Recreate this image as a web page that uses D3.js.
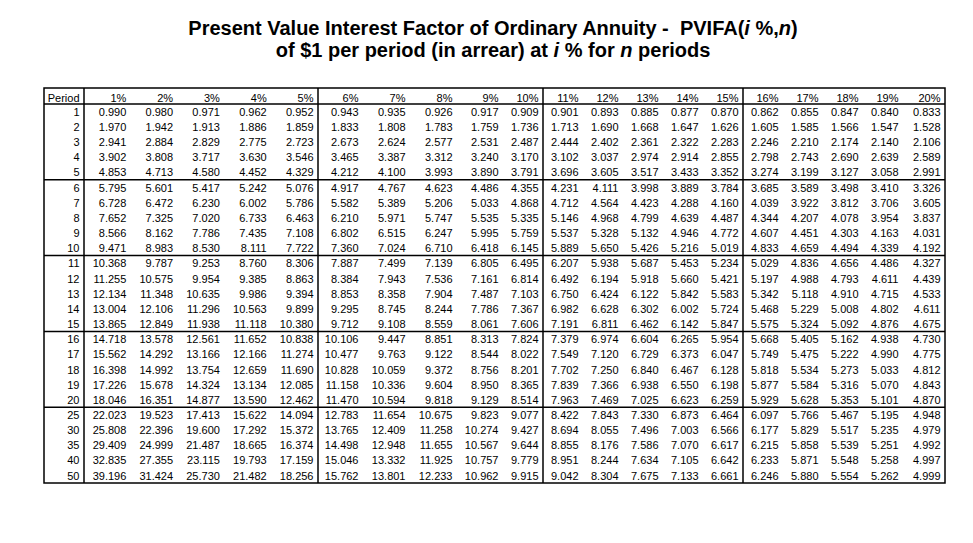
<!DOCTYPE html>
<html><head><meta charset="utf-8">
<script src="https://cdn.jsdelivr.net/npm/d3@7"></script>
<style>
html,body{margin:0;padding:0;background:#fff;}
svg{display:block;font-family:"Liberation Sans",Arial,sans-serif;}
</style></head>
<body><svg id="chart" width="973" height="543"></svg>
<script>
// ---- data ----
const periods = [1,2,3,4,5,6,7,8,9,10,11,12,13,14,15,16,17,18,19,20,25,30,35,40,50];
const rates = ["1%","2%","3%","4%","5%","6%","7%","8%","9%","10%","11%","12%","13%","14%","15%","16%","17%","18%","19%","20%"];
const periodHeader = "Period";
const factors = [
[0.990,0.980,0.971,0.962,0.952,0.943,0.935,0.926,0.917,0.909,0.901,0.893,0.885,0.877,0.870,0.862,0.855,0.847,0.840,0.833],
[1.970,1.942,1.913,1.886,1.859,1.833,1.808,1.783,1.759,1.736,1.713,1.690,1.668,1.647,1.626,1.605,1.585,1.566,1.547,1.528],
[2.941,2.884,2.829,2.775,2.723,2.673,2.624,2.577,2.531,2.487,2.444,2.402,2.361,2.322,2.283,2.246,2.210,2.174,2.140,2.106],
[3.902,3.808,3.717,3.630,3.546,3.465,3.387,3.312,3.240,3.170,3.102,3.037,2.974,2.914,2.855,2.798,2.743,2.690,2.639,2.589],
[4.853,4.713,4.580,4.452,4.329,4.212,4.100,3.993,3.890,3.791,3.696,3.605,3.517,3.433,3.352,3.274,3.199,3.127,3.058,2.991],
[5.795,5.601,5.417,5.242,5.076,4.917,4.767,4.623,4.486,4.355,4.231,4.111,3.998,3.889,3.784,3.685,3.589,3.498,3.410,3.326],
[6.728,6.472,6.230,6.002,5.786,5.582,5.389,5.206,5.033,4.868,4.712,4.564,4.423,4.288,4.160,4.039,3.922,3.812,3.706,3.605],
[7.652,7.325,7.020,6.733,6.463,6.210,5.971,5.747,5.535,5.335,5.146,4.968,4.799,4.639,4.487,4.344,4.207,4.078,3.954,3.837],
[8.566,8.162,7.786,7.435,7.108,6.802,6.515,6.247,5.995,5.759,5.537,5.328,5.132,4.946,4.772,4.607,4.451,4.303,4.163,4.031],
[9.471,8.983,8.530,8.111,7.722,7.360,7.024,6.710,6.418,6.145,5.889,5.650,5.426,5.216,5.019,4.833,4.659,4.494,4.339,4.192],
[10.368,9.787,9.253,8.760,8.306,7.887,7.499,7.139,6.805,6.495,6.207,5.938,5.687,5.453,5.234,5.029,4.836,4.656,4.486,4.327],
[11.255,10.575,9.954,9.385,8.863,8.384,7.943,7.536,7.161,6.814,6.492,6.194,5.918,5.660,5.421,5.197,4.988,4.793,4.611,4.439],
[12.134,11.348,10.635,9.986,9.394,8.853,8.358,7.904,7.487,7.103,6.750,6.424,6.122,5.842,5.583,5.342,5.118,4.910,4.715,4.533],
[13.004,12.106,11.296,10.563,9.899,9.295,8.745,8.244,7.786,7.367,6.982,6.628,6.302,6.002,5.724,5.468,5.229,5.008,4.802,4.611],
[13.865,12.849,11.938,11.118,10.380,9.712,9.108,8.559,8.061,7.606,7.191,6.811,6.462,6.142,5.847,5.575,5.324,5.092,4.876,4.675],
[14.718,13.578,12.561,11.652,10.838,10.106,9.447,8.851,8.313,7.824,7.379,6.974,6.604,6.265,5.954,5.668,5.405,5.162,4.938,4.730],
[15.562,14.292,13.166,12.166,11.274,10.477,9.763,9.122,8.544,8.022,7.549,7.120,6.729,6.373,6.047,5.749,5.475,5.222,4.990,4.775],
[16.398,14.992,13.754,12.659,11.690,10.828,10.059,9.372,8.756,8.201,7.702,7.250,6.840,6.467,6.128,5.818,5.534,5.273,5.033,4.812],
[17.226,15.678,14.324,13.134,12.085,11.158,10.336,9.604,8.950,8.365,7.839,7.366,6.938,6.550,6.198,5.877,5.584,5.316,5.070,4.843],
[18.046,16.351,14.877,13.590,12.462,11.470,10.594,9.818,9.129,8.514,7.963,7.469,7.025,6.623,6.259,5.929,5.628,5.353,5.101,4.870],
[22.023,19.523,17.413,15.622,14.094,12.783,11.654,10.675,9.823,9.077,8.422,7.843,7.330,6.873,6.464,6.097,5.766,5.467,5.195,4.948],
[25.808,22.396,19.600,17.292,15.372,13.765,12.409,11.258,10.274,9.427,8.694,8.055,7.496,7.003,6.566,6.177,5.829,5.517,5.235,4.979],
[29.409,24.999,21.487,18.665,16.374,14.498,12.948,11.655,10.567,9.644,8.855,8.176,7.586,7.070,6.617,6.215,5.858,5.539,5.251,4.992],
[32.835,27.355,23.115,19.793,17.159,15.046,13.332,11.925,10.757,9.779,8.951,8.244,7.634,7.105,6.642,6.233,5.871,5.548,5.258,4.997],
[39.196,31.424,25.730,21.482,18.256,15.762,13.801,12.233,10.962,9.915,9.042,8.304,7.675,7.133,6.661,6.246,5.880,5.554,5.262,4.999]
];

(function () {
// ---- layout ----
const svg = d3.select("#chart");
const tLeft = 44, tRight = 945, tTop = 88, headerBottom = 104, tBottom = 483;
const colWidths = [40, 46.8,46.8,46.8,46.8,46.8, 45,47,47,46,40, 40,40,40,40,40, 40,40,40,40,42];
const edges = [tLeft];
colWidths.forEach(w => edges.push(edges[edges.length-1] + w));
const colKeys = [periodHeader].concat(rates);
const xRight = k => edges[colKeys.indexOf(k) + 1] - 4.5;

const y = d3.scaleBand().domain(periods).range([headerBottom, tBottom]).padding(0);
const fmt = d3.format(".3f");
const fontSize = 11;
const titleSize = 20;

// title
const t1 = svg.append("text").attr("text-anchor","middle").attr("font-weight","bold").attr("font-size",titleSize).attr("fill","#000").attr("x",493).attr("y",35);
t1.append("tspan").text("Present Value Interest Factor of Ordinary Annuity -  PVIFA(");
t1.append("tspan").attr("font-style","italic").text("i");
t1.append("tspan").text(" %,");
t1.append("tspan").attr("font-style","italic").text("n");
t1.append("tspan").text(")");
t1.style("white-space","pre");
const t2 = svg.append("text").attr("text-anchor","middle").attr("font-weight","bold").attr("font-size",titleSize).attr("x",493).attr("y",57);
t2.append("tspan").text("of $1 per period (in arrear) at ");
t2.append("tspan").attr("font-style","italic").text("i");
t2.append("tspan").text(" % for ");
t2.append("tspan").attr("font-style","italic").text("n");
t2.append("tspan").text(" periods");
t2.style("white-space","pre");

// header
svg.append("g").selectAll("text").data(colKeys).join("text")
  .attr("x", d => xRight(d)).attr("y", headerBottom - 2.2)
  .attr("text-anchor","end").attr("font-size",fontSize).attr("fill","#000")
  .text(d => d);

// body rows
const rows = svg.append("g").selectAll("g").data(periods).join("g")
  .attr("transform", d => `translate(0,${y(d) + y.bandwidth()/2 + 4.2})`);
rows.append("text").attr("x", xRight(periodHeader)).attr("text-anchor","end")
  .attr("font-size",fontSize).text(d => d);
rows.selectAll("text.v").data((d,i) => factors[i].map((v,j) => ({v, r: rates[j]}))).join("text")
  .attr("class","v").attr("x", d => xRight(d.r)).attr("text-anchor","end")
  .attr("font-size",fontSize).attr("fill","#000").text(d => fmt(d.v));

// grid lines
const g = svg.append("g").attr("stroke","#000").attr("stroke-width",1.5).attr("fill","none");
g.append("rect").attr("x",tLeft).attr("y",tTop).attr("width",tRight-tLeft).attr("height",tBottom-tTop);
g.append("line").attr("x1",tLeft).attr("x2",tRight).attr("y1",headerBottom).attr("y2",headerBottom);
[5,10,15,20].forEach(p => {
  const yy = y(p) + y.bandwidth();
  g.append("line").attr("x1",tLeft).attr("x2",tRight).attr("y1",yy).attr("y2",yy);
});
["Period","5%","10%","15%"].forEach(k => {
  const xx = edges[colKeys.indexOf(k)+1];
  g.append("line").attr("x1",xx).attr("x2",xx).attr("y1",tTop).attr("y2",tBottom);
});
})();
</script></body></html>
